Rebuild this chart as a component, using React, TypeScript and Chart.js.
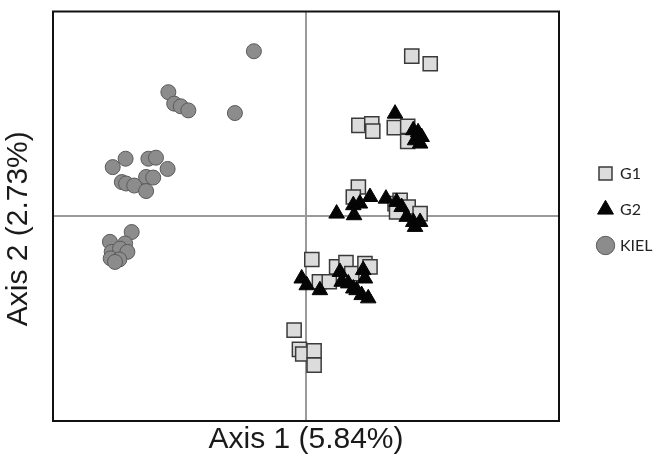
import React, { useEffect, useRef } from 'react';
import { Chart, registerables } from 'chart.js';

Chart.register(...registerables);

// Series values (axis units, both axes span -1..1 with origin at the crosshair)
const g1X = [0.418, 0.491, 0.209, 0.26, 0.264, 0.349, 0.402, 0.402, 0.207, 0.187, 0.352, 0.372, 0.404, 0.451, 0.358,
  0.023, 0.121, 0.158, 0.053, 0.092, 0.181, 0.233, 0.253, -0.047, -0.026, -0.013, 0.032, 0.032];
const g1Y = [0.782, 0.745, 0.444, 0.452, 0.416, 0.433, 0.439, 0.366, 0.143, 0.094, 0.062, 0.078, 0.045, 0.013, 0.021,
  -0.211, -0.247, -0.226, -0.32, -0.32, -0.28, -0.231, -0.247, -0.556, -0.65, -0.673, -0.657, -0.727];

const g2X = [0.352, 0.424, 0.443, 0.457, 0.431, 0.451, 0.121, 0.19, 0.213, 0.187, 0.253, 0.316, 0.358, 0.378, 0.398, 0.424, 0.431, 0.451,
  -0.017, 0.003, 0.055, 0.134, 0.141, 0.167, 0.187, 0.226, 0.233, 0.22, 0.246, 0.2];
const g2Y = [0.501, 0.42, 0.41, 0.387, 0.371, 0.355, 0.013, 0.005, 0.062, 0.054, 0.094, 0.086, 0.07, 0.045, -0.003, -0.028, -0.052, -0.028,
  -0.304, -0.337, -0.361, -0.272, -0.32, -0.328, -0.353, -0.263, -0.304, -0.385, -0.401, -0.361];

const kielX = [-0.206, -0.544, -0.521, -0.495, -0.465, -0.281, -0.764, -0.713, -0.623, -0.593, -0.547, -0.728, -0.711, -0.679, -0.632, -0.604, -0.632,
  -0.689, -0.775, -0.715, -0.768, -0.735, -0.706, -0.772, -0.738, -0.755];
const kielY = [0.806, 0.606, 0.55, 0.537, 0.517, 0.504, 0.24, 0.281, 0.281, 0.286, 0.231, 0.167, 0.16, 0.15, 0.192, 0.189, 0.123,
  -0.077, -0.125, -0.133, -0.174, -0.158, -0.174, -0.206, -0.211, -0.223];

const seriesNames = ['G1', 'G2', 'KIEL'];
const xTitle = 'Axis 1 (5.84%)';
const yTitle = 'Axis 2 (2.73%)';

const pts = (xs: number[], ys: number[]) => xs.map((x, i) => ({ x, y: ys[i] }));

export default function App() {
  const ref = useRef<HTMLCanvasElement>(null);

  useEffect(() => {
    if (!ref.current) return;
    const frame = {
      id: 'frame',
      beforeDatasetsDraw(chart: any) {
        const { ctx, chartArea: a } = chart;
        ctx.save();
        ctx.strokeStyle = '#111';
        ctx.lineWidth = 2;
        ctx.strokeRect(a.left, a.top, a.right - a.left, a.bottom - a.top);
        ctx.restore();
      },
    };
    const zeroGrid = (c: any) => (c.tick && c.tick.value === 0 ? '#9a9a9a' : 'rgba(0,0,0,0)');
    const chart = new Chart(ref.current, {
      type: 'scatter',
      data: {
        datasets: [
          {
            label: seriesNames[0], data: pts(g1X, g1Y), pointStyle: 'rect', pointRadius: 10,
            backgroundColor: '#dcdcdc', borderColor: '#3a3a3a', borderWidth: 1.5, order: 2, yAxisID: 'y',
          },
          {
            label: seriesNames[1], data: pts(g2X, g2Y), pointStyle: 'triangle', pointRadius: 9,
            backgroundColor: '#050505', borderColor: '#050505', borderWidth: 1, order: 1, yAxisID: 'y',
          },
          {
            label: seriesNames[2], data: pts(kielX, kielY), pointStyle: 'circle', pointRadius: 7.5,
            backgroundColor: '#8c8c8c', borderColor: '#5a5a5a', borderWidth: 1, order: 3, yAxisID: 'y',
          },
        ] as any,
      },
      options: {
        responsive: false,
        animation: false,
        events: [],
        layout: { padding: { left: 4, top: 11, right: 0, bottom: 0 } },
        scales: {
          x: {
            type: 'linear', min: -1, max: 1,
            ticks: { display: false, stepSize: 1 },
            grid: { drawTicks: false, color: zeroGrid, lineWidth: 2 },
            border: { display: false },
            title: {
              display: true, text: xTitle, color: '#1a1a1a',
              font: { family: 'Liberation Sans', size: 30, lineHeight: 1 },
              padding: { top: 4, bottom: 1 },
            },
          },
          y: {
            type: 'linear', position: 'left', min: -1, max: 1,
            ticks: { display: false, stepSize: 1 },
            grid: { drawTicks: false, color: zeroGrid, lineWidth: 2 },
            border: { display: false },
            title: {
              display: true, text: yTitle + '   ', color: '#1a1a1a',
              font: { family: 'Liberation Sans', size: 30, lineHeight: 1 },
              padding: { top: 0, bottom: 19 },
            },
          },
          y2: {
            type: 'linear', position: 'right', display: true, min: -1, max: 1,
            ticks: { display: false },
            grid: { display: false, drawTicks: false },
            border: { display: false },
            afterFit: (s: any) => { s.width = 20; },
          },
        },
        plugins: {
          tooltip: { enabled: false },
          legend: {
            position: 'right',
            align: 'start',
            fullSize: false,
            maxWidth: 74,
            title: {
              display: true, text: '',
              font: { size: 10, lineHeight: 1 },
              padding: { top: 124, bottom: 0 },
            },
            labels: {
              usePointStyle: true,
              boxWidth: 13,
              boxHeight: 13,
              padding: 20,
              color: '#222',
              font: { family: 'Lato', size: 16 },
              sort: (a: any, b: any) => a.datasetIndex - b.datasetIndex,
            },
          },
        },
      } as any,
      plugins: [frame],
    });
    return () => chart.destroy();
  }, []);

  return (
    <div style={{ position: 'absolute', left: 0, top: 0, width: 653, height: 456, background: '#fff' }}>
      <canvas ref={ref} width={653} height={456} />
    </div>
  );
}
